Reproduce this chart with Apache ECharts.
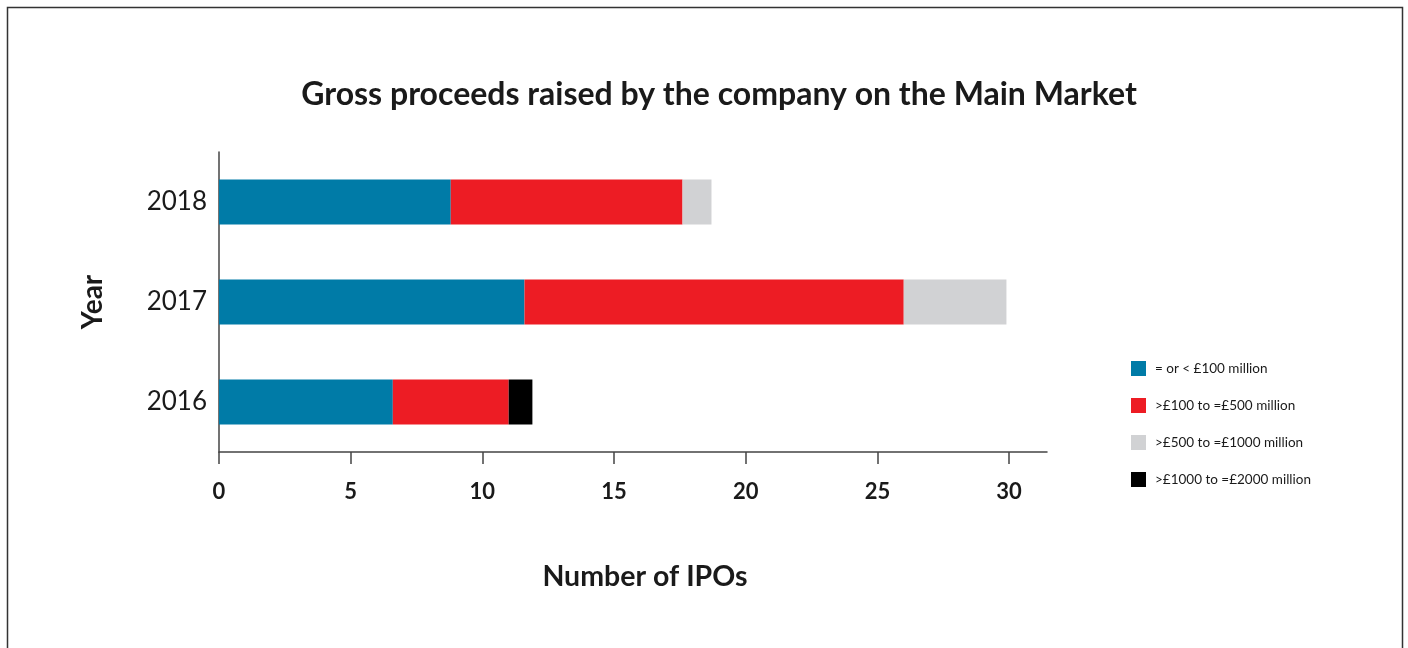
<!DOCTYPE html>
<html>
<head>
<meta charset="utf-8">
<title>Gross proceeds raised by the company on the Main Market</title>
<script src="https://cdn.jsdelivr.net/npm/echarts@6.0.0/dist/echarts.min.js"></script>
<style>
  html, body { margin: 0; padding: 0; background: #fff; }
  #chart { width: 1408px; height: 648px; }
</style>
</head>
<body>
<div id="chart"></div>
<script>
const years = ['2016', '2017', '2018']
const upTo100 = [6.6, 11.6, 8.8]
const from100To500 = [4.4, 14.4, 8.8]
const from500To1000 = [0, 3.9, 1.1]
const from1000To2000 = [0.9, 0, 0]
const xTicks = [0, 5, 10, 15, 20, 25, 30]

const seriesNames = [
  '= or < £100 million',
  '>£100 to =£500 million',
  '>£500 to =£1000 million',
  '>£1000 to =£2000 million'
]
const colors = ['#007ba7', '#ed1c24', '#d1d2d4', '#000000']
const seriesData = [upTo100, from100To500, from500To1000, from1000To2000]

const font = 'Lato, "Open Sans", sans-serif'
const chart = echarts.init(document.getElementById('chart'))

chart.setOption({
  backgroundColor: '#fff',
  animation: false,
  textStyle: { fontFamily: font },
  title: {
    text: 'Gross proceeds raised by the company on the Main Market',
    left: 714,
    top: 74,
    textAlign: 'center',
    textStyle: { fontFamily: font, fontSize: 32, fontWeight: 'bold', color: '#1a1a1a' }
  },
  legend: {
    orient: 'vertical',
    left: 1131,
    top: 361,
    padding: 0,
    itemWidth: 15,
    itemHeight: 15,
    itemGap: 22,
    icon: 'rect',
    data: seriesNames,
    textStyle: { fontFamily: font, fontSize: 13.5, color: '#1a1a1a', padding: [0, 0, 0, 4] }
  },
  grid: { left: 219, top: 152, width: 828, height: 300, containLabel: false },
  xAxis: {
    type: 'value',
    min: 0,
    max: 31.44,
    name: 'Number of IPOs',
    nameLocation: 'middle',
    nameGap: 110,
    nameTextStyle: { fontFamily: font, fontSize: 28.5, fontWeight: 'bold', color: '#1a1a1a', padding: [0, 0, 0, 24] },
    splitLine: { show: false },
    axisLine: { show: true, lineStyle: { color: '#444', width: 1.5 } },
    axisTick: { show: true, length: 12, customValues: xTicks, lineStyle: { color: '#444', width: 1.5 } },
    axisLabel: {
      customValues: xTicks,
      margin: 29,
      fontFamily: font,
      fontSize: 22,
      fontWeight: 'bold',
      color: '#1a1a1a'
    }
  },
  yAxis: {
    type: 'category',
    data: years,
    name: 'Year',
    nameLocation: 'middle',
    nameGap: 112,
    nameRotate: 90,
    nameTextStyle: { fontFamily: font, fontSize: 28, fontWeight: 'bold', color: '#1a1a1a' },
    axisLine: { show: true, lineStyle: { color: '#444', width: 1.5 } },
    axisTick: { show: false },
    axisLabel: { margin: 12, fontFamily: font, fontSize: 26, color: '#1a1a1a' }
  },
  series: seriesNames.map((name, i) => ({
    name,
    type: 'bar',
    stack: 'total',
    barWidth: 45,
    itemStyle: { color: colors[i] },
    data: seriesData[i]
  })),
  graphic: [
    {
      type: 'rect',
      silent: true,
      shape: { x: 7.5, y: 7.5, width: 1395, height: 700 },
      style: { fill: 'none', stroke: '#333', lineWidth: 1.5 }
    }
  ]
})
</script>
</body>
</html>
